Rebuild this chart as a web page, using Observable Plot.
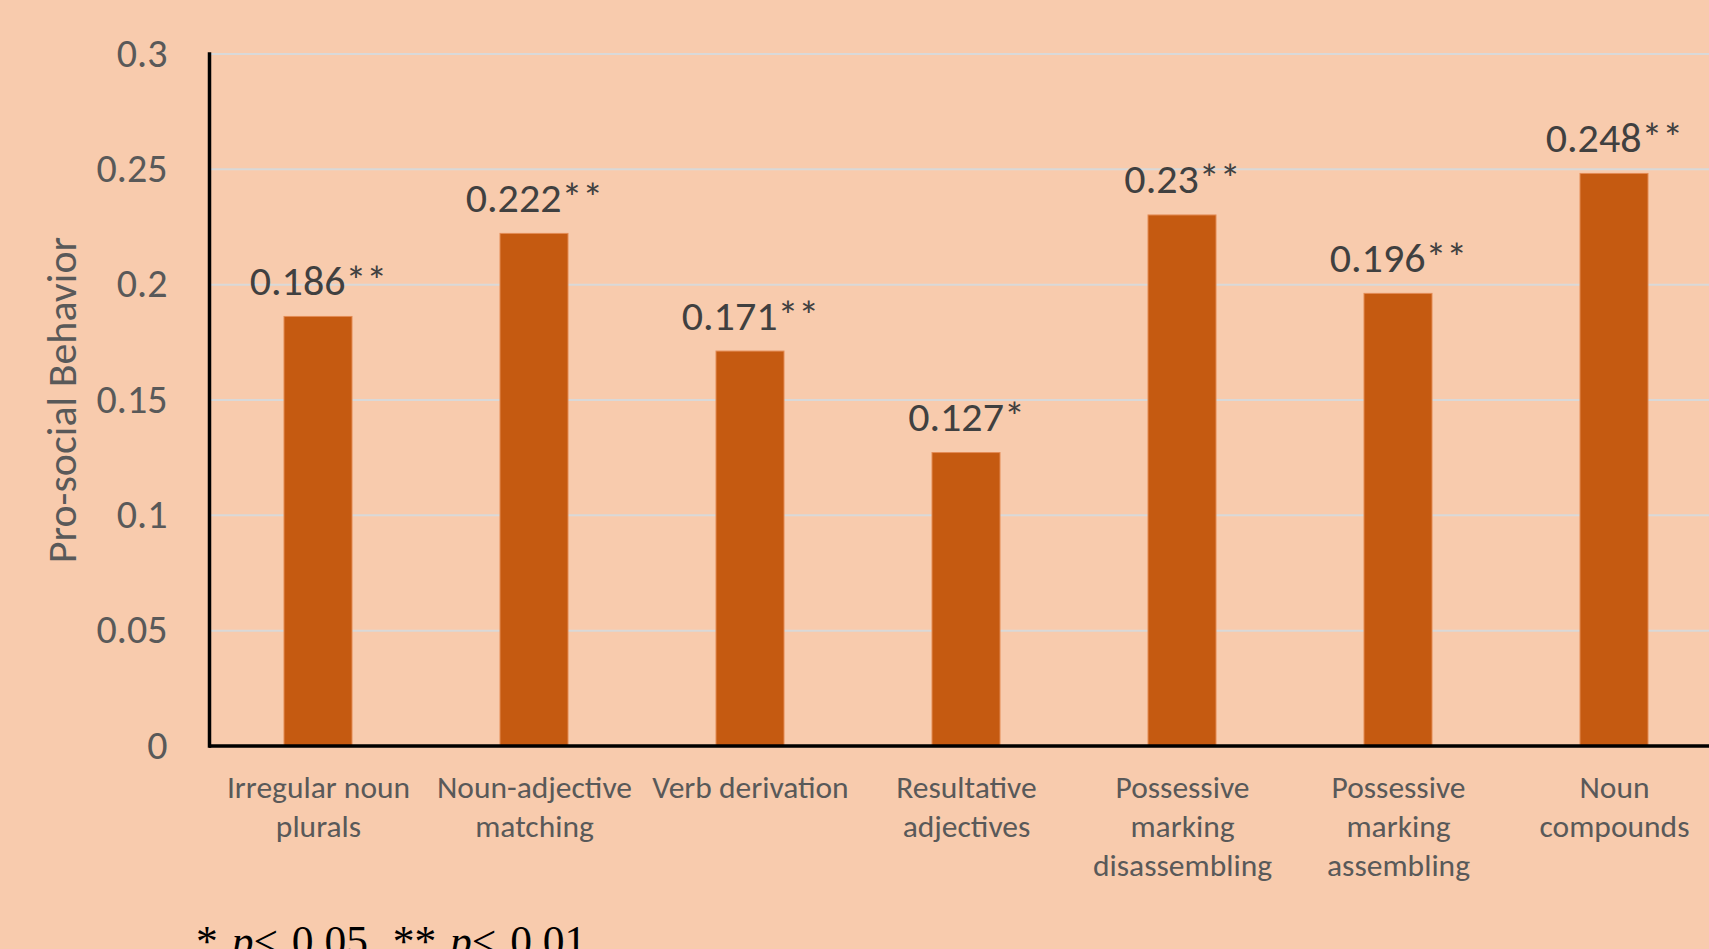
<!DOCTYPE html>
<html>
<head>
<meta charset="utf-8">
<script src="https://cdn.jsdelivr.net/npm/d3@7"></script>
<script src="https://cdn.jsdelivr.net/npm/@observablehq/plot@0.6"></script>
<style>
  html, body { margin: 0; padding: 0; background: #F8CBAD; overflow: hidden; width: 1709px; height: 949px; }
  #chart svg { display: block; }
  #note { position: absolute; left: 196px; top: 920px; font-family: "Liberation Serif", "Times New Roman", serif; font-size: 43.5px; line-height: 43px; color: #000; white-space: pre; word-spacing: 3px; }
  #note i { font-style: italic; }
</style>
</head>
<body>
<div id="chart"></div>
<div id="note">* <i>p</i>&lt; 0.05, ** <i>p</i>&lt; 0.01</div>
<script>
const categories = ["Irregular noun plurals", "Noun-adjective matching", "Verb derivation", "Resultative adjectives", "Possessive marking disassembling", "Possessive marking assembling", "Noun compounds"];
const categoryLabels = ["Irregular noun\nplurals", "Noun-adjective\nmatching", "Verb derivation", "Resultative\nadjectives", "Possessive\nmarking\ndisassembling", "Possessive\nmarking\nassembling", "Noun\ncompounds"];
const values = [0.186, 0.222, 0.171, 0.127, 0.23, 0.196, 0.248];
const significance = ["**", "**", "**", "*", "**", "**", "**"];
const yTicks = [0, 0.05, 0.1, 0.15, 0.2, 0.25, 0.3];
const yTitle = "Pro-social Behavior";

const data = categories.map((c, i) => ({
  category: c,
  label: categoryLabels[i],
  value: values[i],
  text: String(values[i]) + significance[i]
}));

const font = "Carlito, Calibri, Lato, sans-serif";

const chart = Plot.plot({
  width: 1709,
  height: 900,
  marginLeft: 209,
  marginRight: 0,
  marginTop: 53.5,
  marginBottom: 154.5,
  style: { background: "#F8CBAD", fontFamily: font, overflow: "visible" },
  x: { domain: categories, range: [209, 1723], paddingInner: 0.6875, paddingOuter: 0.34375, axis: null },
  y: { domain: [0, 0.3], axis: null },
  marks: [
    Plot.gridY(yTicks.filter(d => d > 0), { stroke: "#D9D9D9", strokeOpacity: 1, strokeWidth: 2 }),
    Plot.barY(data, { x: "category", y: "value", fill: "#C55A11", stroke: "#E38B55", strokeWidth: 1 }),
    Plot.axisY(yTicks, { label: null, tickSize: 0, tickPadding: 42, fontSize: 40, tickFormat: d => String(d), fill: "#595959" }),
    Plot.ruleY([0], { stroke: "black", strokeWidth: 3.5 }),
    Plot.frame({ anchor: "left", stroke: "black", strokeWidth: 3.5 }),
    Plot.text(data, { x: "category", y: "value", text: "text", lineAnchor: "bottom", dy: -22, fontSize: 42, fill: "#404040" }),
    Plot.text(data, { x: "category", text: "label", frameAnchor: "bottom", lineAnchor: "top", dy: 24, fontSize: 31.5, lineHeight: 1.238, fill: "#595959" }),
    Plot.text([yTitle], { text: d => d, frameAnchor: "left", textAnchor: "middle", rotate: -90, dx: -147, fontSize: 42, fill: "#595959" })
  ]
});
document.getElementById("chart").appendChild(chart);
</script>
</body>
</html>
